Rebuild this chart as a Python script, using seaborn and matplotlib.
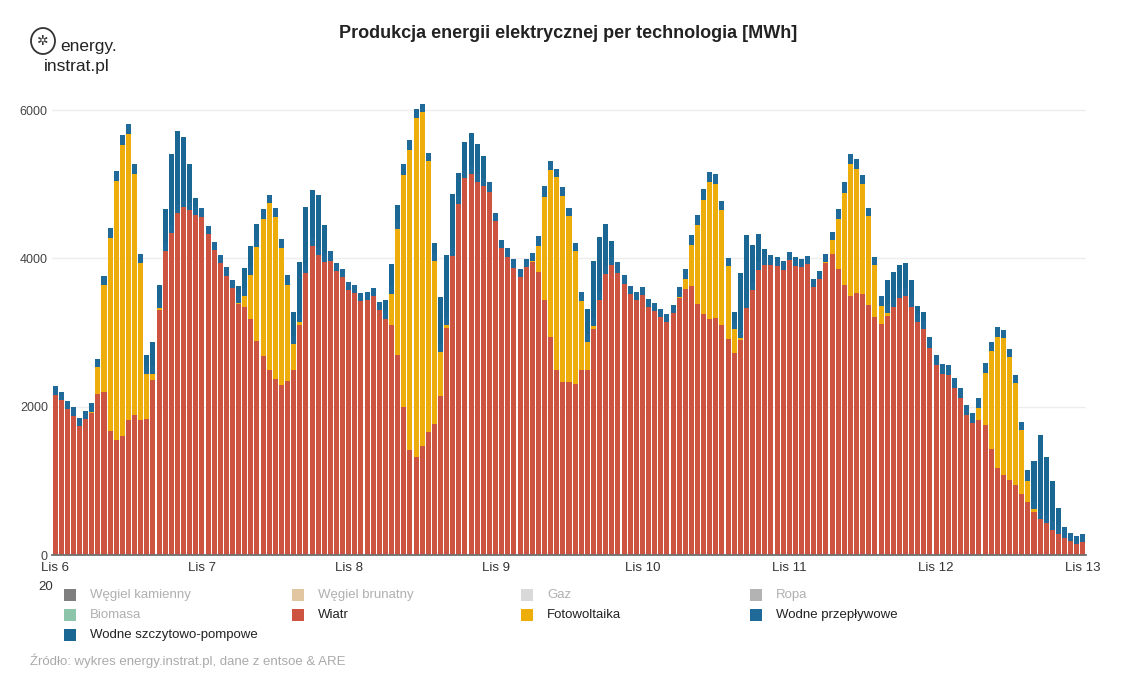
import numpy as np
import pandas as pd
import matplotlib.pyplot as plt
from matplotlib.patches import Rectangle, Ellipse
import seaborn as sns

# --- Data: hourly production [MWh], Lis 6 00:00 .. Lis 13 00:00 (169 hours) ---
day_labels = ["Lis 6", "Lis 7", "Lis 8", "Lis 9", "Lis 10", "Lis 11", "Lis 12", "Lis 13"]

wiatr = [
    2157, 2090, 1968, 1874, 1739, 1834, 1914, 2171, 2198, 1672, 1550, 1604, 1820, 1887, 1820, 1834, 2359, 3303, 4099, 4341, 4611, 4692, 4651, 4584,
    4557, 4328, 4112, 3937, 3761, 3600, 3384, 3344, 3182, 2885, 2683, 2494, 2373, 2292, 2346, 2494, 3101, 3802, 4166, 4045, 3950, 3964, 3829, 3748,
    3573, 3532, 3424, 3438, 3492, 3303, 3182, 3101, 2696, 1995, 1416, 1321, 1470, 1658, 1766, 2144, 3060, 4031, 4732, 5083, 5137, 5029, 4975, 4894,
    4503, 4139, 4018, 3869, 3748, 3883, 3950, 3815, 3438, 2939, 2494, 2332, 2332, 2305, 2494, 2494, 3047, 3438, 3788, 3910, 3802, 3654, 3519, 3438,
    3505, 3343, 3290, 3209, 3141, 3263, 3465, 3586, 3627, 3384, 3249, 3182, 3195, 3101, 2912, 2723, 2899, 3330, 3573, 3842, 3910, 3910, 3896, 3842,
    3977, 3896, 3883, 3923, 3613, 3721, 3937, 4058, 3856, 3640, 3492, 3532, 3519, 3370, 3209, 3114, 3222, 3343, 3465, 3492, 3343, 3141, 3047, 2791,
    2562, 2440, 2427, 2251, 2117, 1887, 1780, 1820, 1753, 1429, 1173, 1079, 1011, 944, 822, 715, 580, 485, 431, 337, 283, 229, 189, 148,
    175,
]

fotowoltaika = [
    0, 0, 0, 0, 0, 0, 13, 364, 1443, 2602, 3492, 3923, 3856, 3249, 2117, 607, 81, 27, 0, 0, 0, 0, 0, 0,
    0, 0, 0, 0, 0, 0, 13, 148, 593, 1267, 1847, 2251, 2184, 1847, 1294, 351, 40, 0, 0, 0, 0, 0, 0, 0,
    0, 0, 0, 0, 0, 0, 0, 418, 1699, 3128, 4045, 4570, 4503, 3654, 2198, 593, 40, 0, 0, 0, 0, 0, 0, 0,
    0, 0, 0, 0, 0, 0, 13, 351, 1389, 2251, 2602, 2508, 2238, 1793, 930, 377, 40, 0, 0, 0, 0, 0, 0, 0,
    0, 0, 0, 0, 0, 0, 13, 135, 553, 1065, 1537, 1847, 1807, 1550, 984, 324, 27, 0, 0, 0, 0, 0, 0, 0,
    0, 0, 0, 0, 0, 0, 13, 189, 674, 1240, 1780, 1672, 1483, 1200, 701, 243, 40, 0, 0, 0, 0, 0, 0, 0,
    0, 0, 0, 0, 0, 0, 0, 162, 701, 1321, 1766, 1847, 1658, 1375, 863, 283, 40, 0, 0, 0, 0, 0, 0, 0,
    0,
]

wodne_przeplywowe = [
    121, 108, 108, 121, 108, 108, 121, 108, 121, 135, 135, 135, 135, 135, 121, 115, 115, 115, 115, 115, 115, 115, 115, 115,
    121, 108, 108, 108, 121, 108, 115, 115, 115, 115, 135, 108, 121, 121, 135, 115, 115, 115, 115, 115, 115, 135, 108, 108,
    108, 108, 108, 108, 108, 108, 115, 115, 115, 148, 135, 121, 108, 108, 115, 115, 115, 115, 115, 115, 115, 115, 115, 135,
    108, 108, 121, 121, 108, 108, 108, 135, 148, 121, 108, 121, 108, 108, 121, 115, 115, 115, 115, 115, 148, 121, 108, 108,
    108, 108, 108, 108, 108, 108, 135, 135, 135, 135, 148, 135, 135, 121, 108, 115, 115, 115, 115, 115, 115, 135, 121, 121,
    108, 121, 108, 108, 108, 108, 108, 108, 135, 148, 135, 135, 121, 108, 108, 135, 115, 115, 115, 115, 115, 115, 115, 148,
    135, 135, 135, 135, 135, 135, 135, 135, 135, 121, 135, 108, 108, 108, 108, 148, 115, 115, 115, 115, 115, 148, 108, 108,
    108,
]

wodne_pompowe = [
    0, 0, 0, 0, 0, 0, 0, 0, 0, 0, 0, 0, 0, 0, 0, 141, 316, 195, 451, 950, 991, 829, 505, 114,
    0, 0, 0, 0, 0, 0, 114, 262, 276, 195, 0, 0, 0, 0, 0, 316, 694, 775, 640, 694, 384, 0, 0, 0,
    0, 0, 0, 0, 0, 0, 141, 289, 209, 0, 0, 0, 0, 0, 128, 627, 829, 721, 303, 370, 438, 397, 289, 0,
    0, 0, 0, 0, 0, 0, 0, 0, 0, 0, 0, 0, 0, 0, 0, 330, 761, 734, 559, 209, 0, 0, 0, 0,
    0, 0, 0, 0, 0, 0, 0, 0, 0, 0, 0, 0, 0, 0, 0, 114, 761, 869, 492, 370, 101, 0, 0, 0,
    0, 0, 0, 0, 0, 0, 0, 0, 0, 0, 0, 0, 0, 0, 0, 0, 330, 357, 330, 330, 249, 101, 114, 0,
    0, 0, 0, 0, 0, 0, 0, 0, 0, 0, 0, 0, 0, 0, 0, 0, 532, 1017, 775, 546, 236, 0, 0, 0,
    0,
]

legend_names = ["Węgiel kamienny", "Węgiel brunatny", "Gaz", "Ropa",
                "Biomasa", "Wiatr", "Fotowoltaika", "Wodne przepływowe",
                "Wodne szczytowo-pompowe"]
legend_colors = ["#7f7f7f", "#e2c6a2", "#d9d9d9", "#b3b3b3",
                 "#8cc5aa", "#cc5440", "#edae0b", "#1f6a98", "#1b6794"]
legend_visible = [False, False, False, False, False, True, True, True, True]

# --- Style ---
sns.set_theme(style="white")
plt.rcParams["font.family"] = ["Liberation Sans", "DejaVu Sans"]

W, H = 1136, 700
fig = plt.figure(figsize=(W / 100, H / 100), dpi=100)
ax = fig.add_axes([52 / W, 145 / H, 1034 / W, 463.4 / H])

df = pd.DataFrame({
    "godzina": np.arange(len(wiatr)),
    "Wiatr": wiatr,
    "Fotowoltaika": fotowoltaika,
    "Wodne przepływowe": wodne_przeplywowe,
    "Wodne szczytowo-pompowe": wodne_pompowe,
})

# --- Stacked bars: draw cumulative sums from the top layer down ---
stack = ["Wiatr", "Fotowoltaika", "Wodne przepływowe", "Wodne szczytowo-pompowe"]
stack_colors = dict(zip(legend_names, legend_colors))
for k in range(len(stack), 0, -1):
    cum = df[stack[:k]].sum(axis=1)
    sns.barplot(x=df["godzina"], y=cum, color=stack_colors[stack[k - 1]],
                saturation=1, width=0.82, errorbar=None, linewidth=0, ax=ax)

# --- Axes ---
ax.set_xlim(-0.5, len(wiatr) - 0.5)
ax.set_ylim(0, 6250)
ax.set_xticks(np.arange(0, len(wiatr), 24))
ax.set_xticklabels(day_labels)
ax.set_yticks([0, 2000, 4000, 6000])
ax.set_yticklabels(["0", "2000", "4000", "6000"])
ax.set_xlabel("")
ax.set_ylabel("")
ax.tick_params(axis="x", length=0, pad=5, labelsize=9.5, labelcolor="#333333")
ax.tick_params(axis="y", length=0, pad=3, labelsize=9, labelcolor="#444444")
ax.yaxis.grid(True, color="#ededed", lw=1)
ax.set_axisbelow(True)
for s in ["left", "top", "right"]:
    ax.spines[s].set_visible(False)
ax.spines["bottom"].set_color("#707070")
ax.spines["bottom"].set_linewidth(1.3)

# clipped year under first tick
fig.text(38 / W, 1 - 587 / H, "20", fontsize=9.5, color="#333333", va="center", ha="left")

# --- Title ---
fig.text(568 / W, 1 - 34 / H, "Produkcja energii elektrycznej per technologia [MWh]",
         fontsize=13, fontweight="bold", color="#222222", ha="center", va="center")

# --- Logo ---
fig.patches.append(Ellipse((43 / W, 1 - 41 / H), 24 / W, 26 / H, transform=fig.transFigure,
                           fill=False, ec="#333333", lw=1.3))
fig.text(43 / W, 1 - 41 / H, "✲", fontsize=10, color="#333333", ha="center", va="center")
fig.text(60 / W, 1 - 47 / H, "energy.", fontsize=12.5, color="#222222", ha="left", va="center")
fig.text(44 / W, 1 - 66 / H, "instrat.pl", fontsize=12.5, color="#222222", ha="left", va="center")

# --- Legend (fixed-width columns) ---
col_x = [64, 292, 521, 750]
row_y = [595, 615, 635]
for n, (name, col, vis) in enumerate(zip(legend_names, legend_colors, legend_visible)):
    cx = col_x[n % 4]
    cy = row_y[n // 4]
    fig.patches.append(Rectangle((cx / W, 1 - (cy + 6) / H), 12 / W, 12 / H,
                                 transform=fig.transFigure, color=col, lw=0))
    fig.text((cx + 26) / W, 1 - cy / H, name, fontsize=9.5,
             color="#222222" if vis else "#b0b0b0", ha="left", va="center")

# --- Source ---
fig.text(30 / W, 1 - 661 / H, "Źródło: wykres energy.instrat.pl, dane z entsoe & ARE",
         fontsize=9.5, color="#aaaaaa", ha="left", va="center")

fig.savefig("out.png", dpi=100)
